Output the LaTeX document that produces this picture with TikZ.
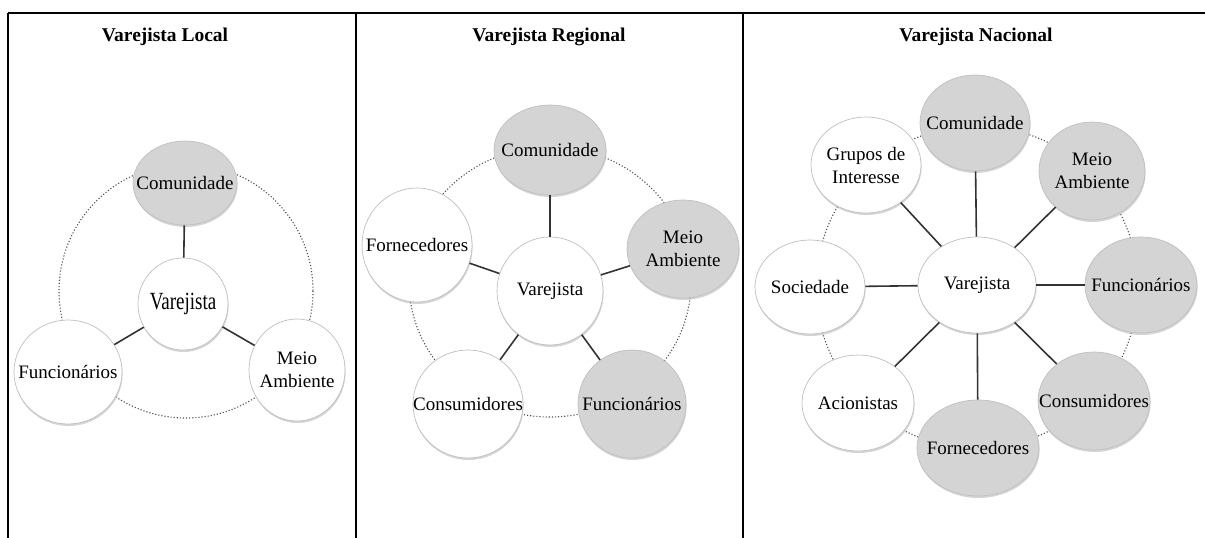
\documentclass[tikz,border=0pt]{standalone}
\usepackage{fontspec}
\usepackage{graphicx}
\setmainfont{Liberation Serif}
\usetikzlibrary{shapes.geometric,shadows}
% zero-width centred label, so long words do not enlarge the ellipses
\newcommand{\zw}[1]{\makebox[0pt][c]{#1}}

\begin{document}
\begin{tikzpicture}[x=1pt,y=-1pt,
  actor/.style={ellipse, draw=black!25, line width=0.7pt, inner sep=0pt,
    font=\fontsize{19}{23}\selectfont, align=center,
    drop shadow={shadow xshift=0.6pt, shadow yshift=-2pt, fill=black!30, opacity=0.55}},
  plain/.style={actor, fill=white},
  shaded/.style={actor, fill=black!17},
  link/.style={draw=black!80, line width=1.6pt},
  ring/.style={draw=black!70, line width=1.1pt, dotted},
  frame/.style={line width=1.3pt},
  heading/.style={font=\fontsize{19.5}{22}\selectfont\bfseries}]

\useasboundingbox (0,0) rectangle (1205,538);

% table frame
\draw[line width=1.8pt] (8,13) -- (1205,13);
\draw[frame] (8,13) -- (8,538);
\draw[frame] (356,13) -- (356,538);
\draw[frame] (743,13) -- (743,538);

% headings
\node[heading] (t-loc) at (165,37) {Varejista Local};
\node[heading] (t-reg) at (549,37) {Varejista Regional};
\node[heading] (t-nac) at (976,37) {Varejista Nacional};

% ---- local retailer ----
\draw[ring] (186,291) circle[radius=127];
\node[shaded, minimum width=104pt, minimum height=84pt] (l-com) at (185,183) {\zw{Comunidade}};
\node[plain, minimum width=90pt, minimum height=92pt] (l-var) at (183,304) {\zw{\scalebox{1}[1.3]{Varejista}}};
\node[plain, minimum width=108pt, minimum height=104pt] (l-fun) at (68,372) {\zw{Funcionários}};
\node[plain, minimum width=96pt, minimum height=102pt] (l-mei) at (297,370) {\zw{Meio}\\\zw{Ambiente}};
\draw[link] (l-var) -- (l-com);
\draw[link] (l-var) -- (l-fun);
\draw[link] (l-var) -- (l-mei);

% ---- regional retailer ----
\draw[ring] (550,282) ellipse[x radius=141, y radius=135];
\node[shaded, minimum width=112pt, minimum height=90pt] (r-com) at (550,150) {\zw{Comunidade}};
\node[shaded, minimum width=112pt, minimum height=98pt] (r-mei) at (683,249) {\zw{Meio}\\\zw{Ambiente}};
\node[plain, minimum width=110pt, minimum height=114pt] (r-for) at (417,245) {\zw{Fornecedores}};
\node[plain, minimum width=106pt, minimum height=108pt] (r-var) at (550,291) {\zw{Varejista}};
\node[plain, minimum width=110pt, minimum height=108pt] (r-con) at (468,404) {\zw{Consumidores}};
\node[shaded, minimum width=108pt, minimum height=108pt] (r-fun) at (632,404) {\zw{Funcionários}};
\foreach \n in {r-com,r-mei,r-for,r-con,r-fun} \draw[link] (r-var) -- (\n);

% ---- national retailer ----
\draw[ring] (977,287) circle[radius=161];
\node[shaded, minimum width=110pt, minimum height=96pt] (n-com) at (975,123) {\zw{Comunidade}};
\node[plain, minimum width=110pt, minimum height=96pt] (n-gru) at (866,165) {\zw{Grupos de}\\\zw{Interesse}};
\node[shaded, minimum width=106pt, minimum height=98pt] (n-mei) at (1092,171) {\zw{Meio}\\\zw{Ambiente}};
\node[plain, minimum width=110pt, minimum height=94pt] (n-soc) at (810,287) {\zw{Sociedade}};
\node[plain, minimum width=118pt, minimum height=96pt] (n-var) at (977,285) {\zw{Varejista}};
\node[shaded, minimum width=112pt, minimum height=96pt] (n-fun) at (1141,285) {\zw{Funcionários}};
\node[plain, minimum width=112pt, minimum height=96pt] (n-aci) at (858,403) {\zw{Acionistas}};
\node[shaded, minimum width=122pt, minimum height=96pt] (n-for) at (978,448) {\zw{Fornecedores}};
\node[shaded, minimum width=112pt, minimum height=98pt] (n-con) at (1094,401) {\zw{Consumidores}};
\foreach \n in {n-com,n-gru,n-mei,n-soc,n-fun,n-aci,n-for,n-con} \draw[link] (n-var) -- (\n);

\end{tikzpicture}
\end{document}
